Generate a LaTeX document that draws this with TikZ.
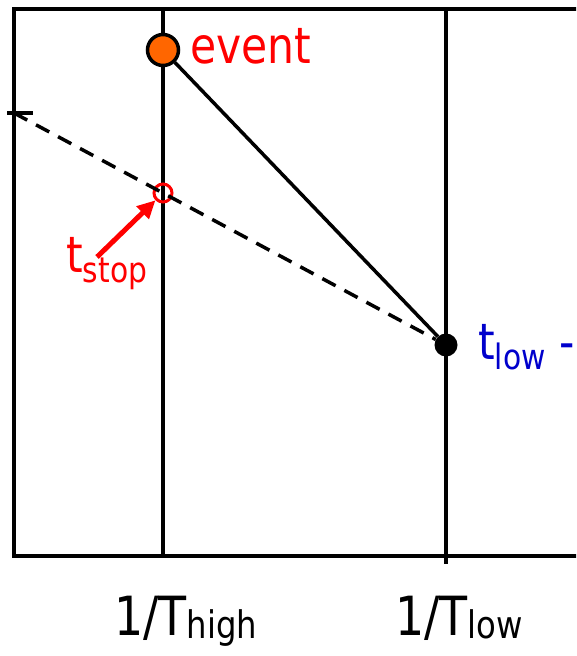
\documentclass[tikz,border=0pt]{standalone}
\usepackage{fontspec}
\setmainfont{DejaVu Sans}[FakeStretch=0.85]
\usepackage{xcolor}
\usetikzlibrary{arrows.meta, positioning}

\definecolor{evorange}{HTML}{FF6600}
\definecolor{lowblue}{HTML}{0000CC}
\newcommand{\bigtxt}{\fontsize{50}{60}\selectfont}
\newcommand{\axtxt}{\fontsize{54}{64}\selectfont}
\newcommand{\subtxt}[2]{\raisebox{#1}{\fontsize{35}{42}\selectfont #2}}
\newcommand{\axsub}[1]{\raisebox{-3pt}{\fontsize{38}{46}\selectfont #1}}

\begin{document}
\begin{tikzpicture}[x=1pt, y=-1pt, >=Latex]
    \tikzstyle{axis}=[line width=4pt, line cap=rect]
    \tikzstyle{path}=[line width=3.5pt]
    \tikzstyle{guide}=[line width=3.5pt, dash pattern=on 15pt off 10pt]
    \tikzstyle{label}=[inner sep=0pt, anchor=base west, font=\bigtxt]
    \tikzstyle{pointer}=[-{Triangle[length=18pt, width=17pt]}, line width=5pt, red]

    \useasboundingbox (0,0) rectangle (576,656);
    \clip (0,0) rectangle (576,656);

    % frame and the two temperature lines
    \coordinate (topright) at (600,9);
    \coordinate (origin) at (14,556);
    \coordinate (botright) at (600,556);
    \coordinate (hightop) at (163,9);
    \coordinate (highbot) at (163,556);
    \coordinate (lowtop) at (446,9);
    \coordinate (lowbot) at (446,562);
    \coordinate (tick) at (14,113);
    \coordinate (tickl) at (7,113);
    \coordinate (tickr) at (33,113);

    \draw[axis] (topright) -| (origin) -- (botright);
    \draw[axis] (hightop) -- (highbot);
    \draw[axis] (lowtop) -- (lowbot);
    \draw[line width=3.5pt] (tickl) -- (tickr);

    % points
    \node[circle, draw, line width=3.5pt, fill=evorange, minimum size=31pt, inner sep=0pt] (event) at (163,50) {};
    \node[circle, draw=red, line width=3pt, minimum size=18pt, inner sep=0pt] (tstop) at (163,193) {};
    \node[circle, fill, minimum size=23pt, inner sep=0pt] (tlow) at (446,345) {};

    \draw[path] (event) -- (tlow);
    \draw[guide] (tick) -- (tlow);

    % labels
    \node[label, text=red] (eventlbl) at (190,63) {event};
    \node[label, text=red] (tstoplbl) at (66,272) {t\subtxt{-10pt}{stop}};
    \node[label, text=lowblue] (tlowlbl) at (478,359) {t\subtxt{-10pt}{low} -};
    \node[label, font=\axtxt] (highlbl) at (114,635) {1/T\axsub{high}};
    \node[label, font=\axtxt] (lowlbl) at (395,635) {1/T\axsub{low}};

    \coordinate (ptail) at (97,257);
    \draw[pointer] (ptail) -- (tstop);
\end{tikzpicture}
\end{document}
